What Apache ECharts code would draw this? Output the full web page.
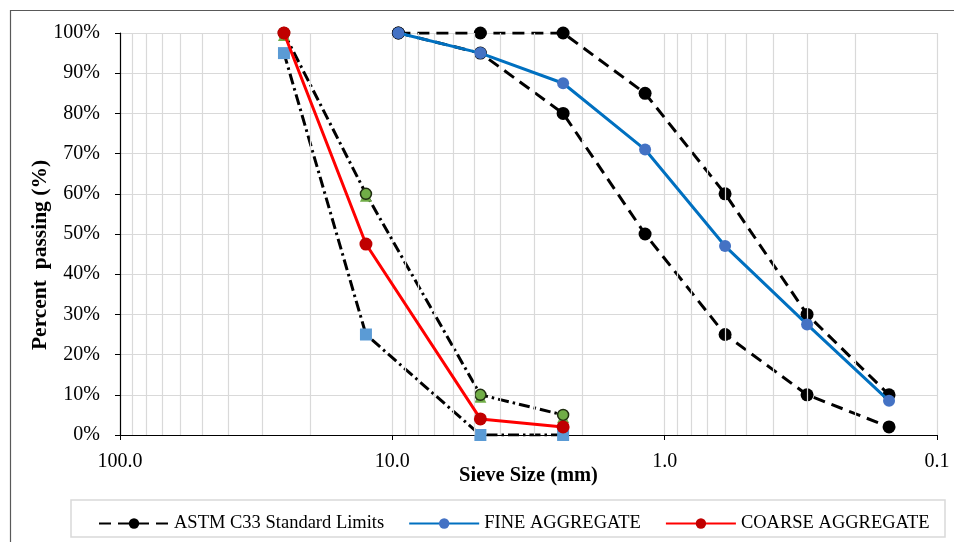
<!DOCTYPE html>
<html>
<head>
<meta charset="utf-8">
<script src="https://cdn.jsdelivr.net/npm/echarts@6/dist/echarts.min.js"></script>
<style>
  html, body { margin: 0; padding: 0; background: #fff; }
  #main { width: 954px; height: 542px; }
</style>
</head>
<body>
<div id="main"></div>
<script>
// sieve sizes (mm)
const sieveFine = [9.5, 4.75, 2.36, 1.18, 0.6, 0.3, 0.15];
const sieveCoarse = [25, 12.5, 4.75, 2.36];

// percent passing
const fineUpper = [100, 100, 100, 85, 60, 30, 10];
const fineLower = [100, 95, 80, 50, 25, 10, 2];
const fineAgg = [100, 95, 87.5, 71, 47, 27.5, 8.5];
const coarseUpper = [100, 60, 10, 5];
const coarseLower = [95, 25, 0, 0];
const coarseAgg = [100, 47.5, 4, 2];

// minor vertical gridlines of the log axis
const minorGrid = [20, 30, 40, 50, 60, 70, 80, 90, 2, 3, 4, 5, 6, 7, 8, 9,
  0.2, 0.3, 0.4, 0.5, 0.6, 0.7, 0.8, 0.9];

const legendNames = ["ASTM C33 Standard Limits", "FINE AGGREGATE", "COARSE AGGREGATE"];

const font = "'Liberation Serif', 'Times New Roman', serif";

function pairs(xs, ys) {
  return xs.map((x, i) => [x, ys[i]]);
}

var chart = echarts.init(document.getElementById("main"));
var option = {
  backgroundColor: "#fff",
  animation: false,
  textStyle: { fontFamily: font },
  graphic: [
    {
      type: "rect",
      shape: { x: 10.5, y: 10.5, width: 960, height: 560 },
      style: { fill: "none", stroke: "#595959", lineWidth: 1.2 },
      silent: true
    },
    {
      type: "rect",
      shape: { x: 71, y: 500, width: 874, height: 37 },
      style: { fill: "none", stroke: "#d9d9d9", lineWidth: 1.5 },
      silent: true
    }
  ],
  grid: { left: 120, right: 17, top: 33, bottom: 107 },
  legend: {
    left: 93,
    top: 509,
    itemWidth: 70,
    itemHeight: 13,
    itemGap: 24,
    textStyle: { fontFamily: font, fontSize: 18.5, color: "#000" },
    data: legendNames
  },
  xAxis: {
    type: "log",
    logBase: 10,
    min: 0.1,
    max: 100,
    inverse: true,
    name: "Sieve Size (mm)",
    nameLocation: "middle",
    nameGap: 30,
    nameMoveOverlap: false,
    nameTextStyle: { fontFamily: font, fontSize: 20.5, fontWeight: "bold", color: "#000" },
    axisLine: { lineStyle: { color: "#000", width: 1.2 } },
    axisTick: { show: true, length: 5, lineStyle: { color: "#000" } },
    axisLabel: {
      fontFamily: font, fontSize: 20, color: "#000", margin: 17,
      formatter: function (v) { return Number(v).toFixed(1); }
    },
    splitLine: { show: true, lineStyle: { color: "#d9d9d9", width: 1.2 } }
  },
  yAxis: {
    type: "value",
    min: 0,
    max: 100,
    interval: 10,
    name: "Percent  passing (%)",
    nameLocation: "middle",
    nameGap: 69,
    nameMoveOverlap: false,
    nameTextStyle: {
      fontFamily: font, fontSize: 21.5, fontWeight: "bold", color: "#000",
      padding: [0, 42, 0, 0]
    },
    axisLine: { show: true, lineStyle: { color: "#000", width: 1.2 } },
    axisTick: { show: true, length: 5, lineStyle: { color: "#000" } },
    axisLabel: { fontFamily: font, fontSize: 20, color: "#000", margin: 20, formatter: "{value}%" },
    splitLine: { show: true, lineStyle: { color: "#d9d9d9", width: 1.2 } }
  },
  series: [
    {
      name: "minor grid",
      type: "line",
      data: [],
      z: 0,
      silent: true,
      markLine: {
        silent: true,
        symbol: "none",
        label: { show: false },
        lineStyle: { color: "#d9d9d9", type: "solid", width: 1.2 },
        data: minorGrid.map(v => ({ xAxis: v }))
      }
    },
    {
      name: "coarse lower",
      type: "line",
      data: pairs(sieveCoarse, coarseLower),
      symbol: "rect",
      symbolSize: 12,
      itemStyle: { color: "#5b9bd5" },
      lineStyle: { color: "#000", width: 3, type: [11, 4, 2.5, 4] },
      z: 3
    },
    {
      name: "coarse upper tri",
      type: "line",
      data: pairs(sieveCoarse, coarseUpper),
      symbol: "triangle",
      symbolSize: 12,
      symbolOffset: [0, 2],
      itemStyle: { color: "#70ad47" },
      lineStyle: { color: "#000", width: 3, type: [11, 4, 2.5, 4] },
      z: 3
    },
    {
      name: "coarse upper",
      type: "line",
      data: pairs(sieveCoarse, coarseUpper),
      symbol: "circle",
      symbolSize: 11,
      itemStyle: { color: "#70ad47", borderColor: "#1f2d10", borderWidth: 1.5 },
      lineStyle: { width: 0 },
      z: 4
    },
    {
      name: legendNames[0],
      type: "line",
      data: pairs(sieveFine, fineUpper),
      symbol: "circle",
      symbolSize: 13,
      itemStyle: { color: "#000" },
      lineStyle: { color: "#000", width: 3, type: [12, 7] },
      z: 3
    },
    {
      name: legendNames[0],
      type: "line",
      data: pairs(sieveFine, fineLower),
      symbol: "circle",
      symbolSize: 13,
      itemStyle: { color: "#000" },
      lineStyle: { color: "#000", width: 3, type: [12, 7] },
      z: 3
    },
    {
      name: legendNames[1],
      type: "line",
      data: pairs(sieveFine, fineAgg),
      symbol: "circle",
      symbolSize: 12,
      itemStyle: { color: "#4472c4" },
      lineStyle: { color: "#0070c0", width: 3 },
      z: 5
    },
    {
      name: legendNames[2],
      type: "line",
      data: pairs(sieveCoarse, coarseAgg),
      symbol: "circle",
      symbolSize: 13,
      itemStyle: { color: "#c00000" },
      lineStyle: { color: "#ff0000", width: 3 },
      z: 5
    }
  ]
};
chart.setOption(option);
</script>
</body>
</html>
